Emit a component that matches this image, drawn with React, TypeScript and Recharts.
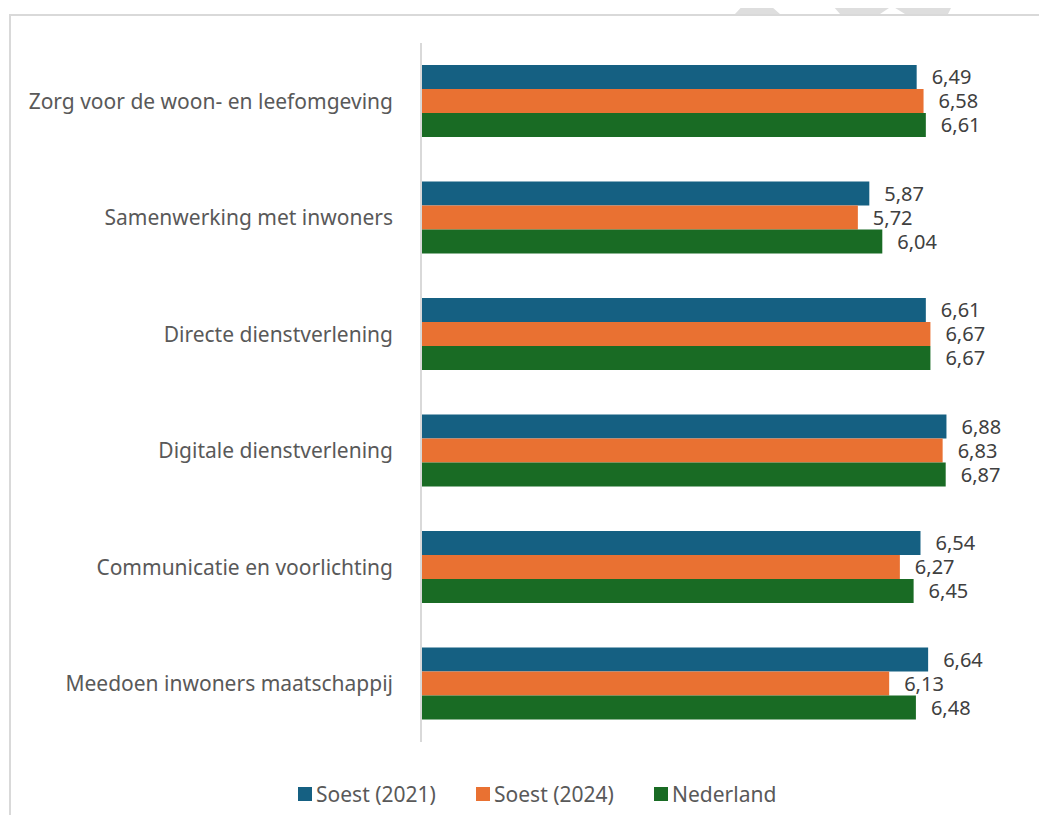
import { Bar, BarChart, LabelList, XAxis, YAxis } from "recharts";

const CATEGORIES = [
  "Zorg voor de woon- en leefomgeving",
  "Samenwerking met inwoners",
  "Directe dienstverlening",
  "Digitale dienstverlening",
  "Communicatie en voorlichting",
  "Meedoen inwoners maatschappij",
];
const SOEST_2021 = [6.49, 5.87, 6.61, 6.88, 6.54, 6.64];
const SOEST_2024 = [6.58, 5.72, 6.67, 6.83, 6.27, 6.13];
const NEDERLAND = [6.61, 6.04, 6.67, 6.87, 6.45, 6.48];

const SERIES = [
  { key: "s2021", name: "Soest (2021)", color: "#156082", values: SOEST_2021 },
  { key: "s2024", name: "Soest (2024)", color: "#E97132", values: SOEST_2024 },
  { key: "nl", name: "Nederland", color: "#196B24", values: NEDERLAND },
];

const FONT = "'Noto Sans', sans-serif";
const TEXT = "#595959";

const rows = CATEGORIES.map((category, i) => {
  const row: Record<string, string | number> = { category };
  SERIES.forEach((s) => (row[s.key] = s.values[i]));
  return row;
});

const comma = (v: any) => Number(v).toFixed(2).replace(".", ",");

function LegendRow() {
  return (
    <div
      style={{
        position: "absolute",
        left: 298,
        top: 780,
        display: "flex",
        fontFamily: FONT,
        fontSize: 21,
        lineHeight: "28px",
        color: TEXT,
        whiteSpace: "nowrap",
      }}
    >
      {SERIES.map((s) => (
        <span key={s.key} style={{ display: "flex", alignItems: "center", gap: 4, width: 178 }}>
          <span style={{ width: 14, height: 14, background: s.color, display: "inline-block" }} />
          {s.name}
        </span>
      ))}
    </div>
  );
}

export default function App() {
  return (
    <div style={{ position: "relative", width: 1047, height: 823, margin: -8, overflow: "hidden", background: "#fff" }}>
      {/* bits of a page decoration peeking over the top of the frame */}
      <svg width={1047} height={16} style={{ position: "absolute", left: 0, top: 0 }}>
        <polygon points="748,0 778,0 772,7 780,14 735,14" fill="#dedede" />
        <polygon points="828,0 955,0 948,14 905,14 892,6 880,14 840,14" fill="#dedede" />
      </svg>
      {/* chart frame, runs off the right and bottom edge */}
      <div
        style={{
          position: "absolute",
          left: 9,
          top: 14,
          width: 1100,
          height: 900,
          border: "2px solid #d9d9d9",
        }}
      />
      <div style={{ position: "absolute", left: 0, top: 0 }}>
        <BarChart
          width={1047}
          height={823}
          data={rows}
          layout="vertical"
          margin={{ top: 43, right: 15, bottom: 81, left: 0 }}
          barSize={24}
          barGap={0}
        >
          <XAxis type="number" domain={[0, 8]} hide />
          <YAxis
            type="category"
            dataKey="category"
            width={421}
            axisLine={{ stroke: "#d9d9d9", strokeWidth: 2 }}
            tickLine={false}
            tickMargin={22}
            tick={{ fill: TEXT, fontSize: 21, fontFamily: FONT }}
          />
          {SERIES.map((s) => (
            <Bar key={s.key} dataKey={s.key} name={s.name} fill={s.color} isAnimationActive={false}>
              <LabelList
                dataKey={s.key}
                position="right"
                offset={15}
                formatter={comma}
                style={{ fill: "#404040", fontSize: 20, fontFamily: FONT }}
              />
            </Bar>
          ))}
        </BarChart>
      </div>
      <LegendRow />
    </div>
  );
}
